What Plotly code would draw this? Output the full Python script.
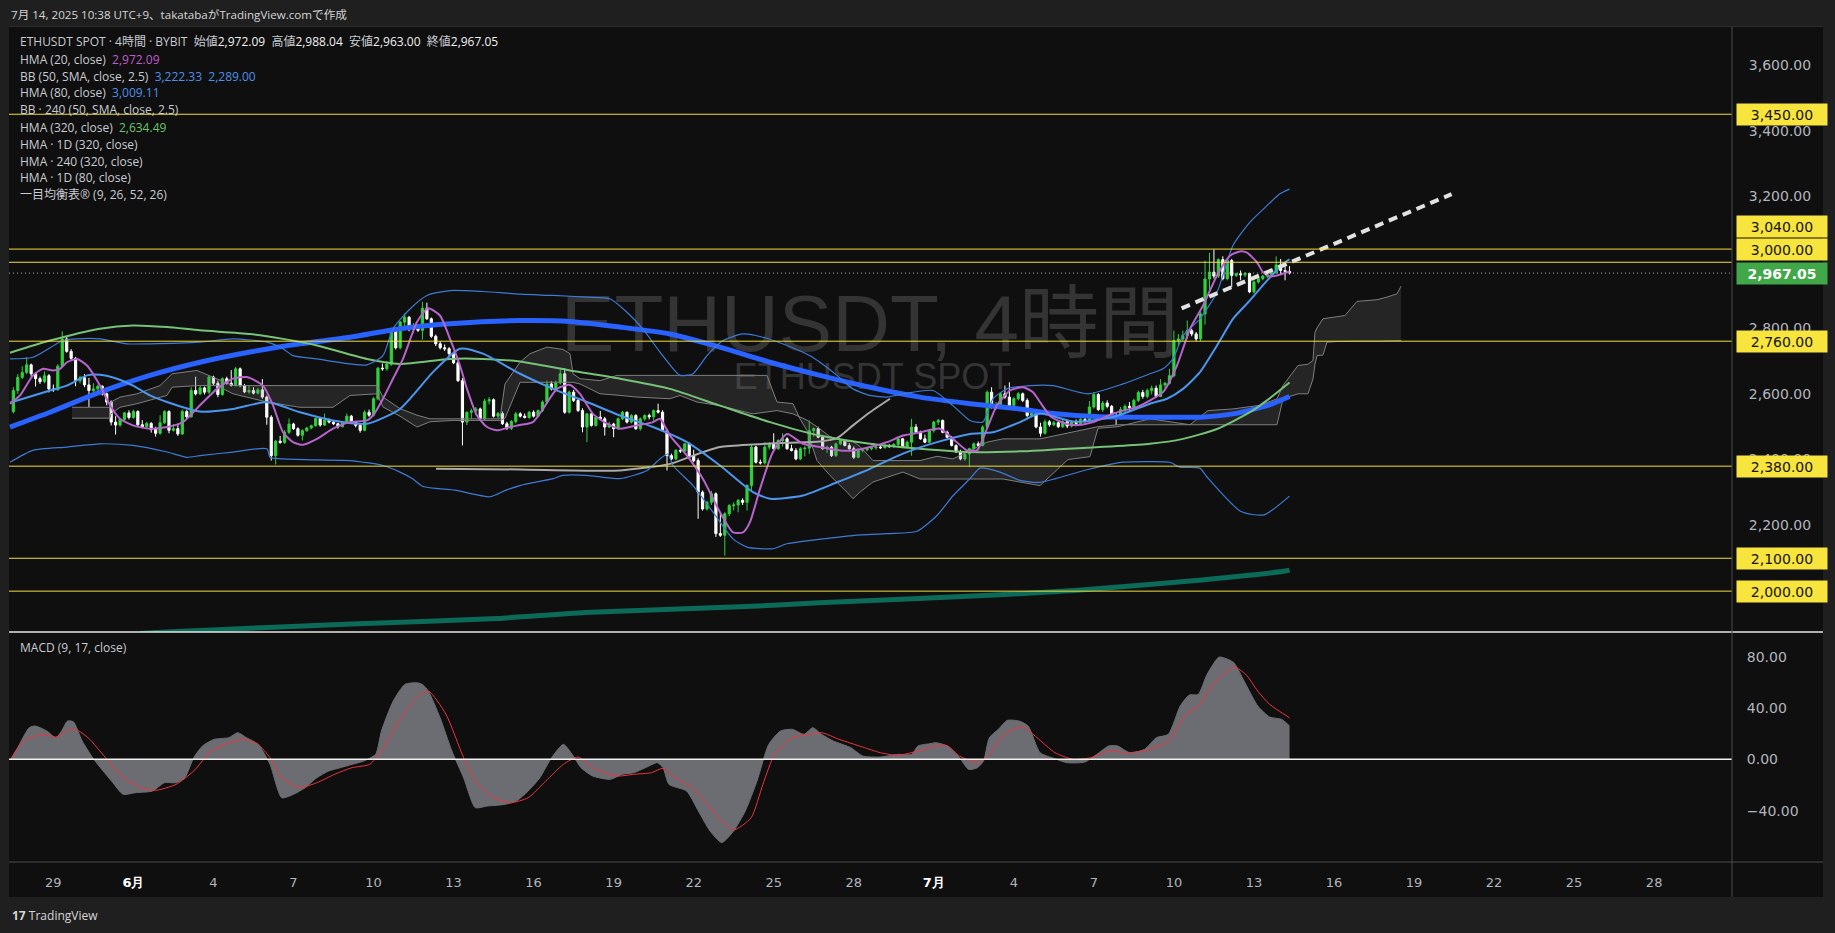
import pandas as pd
import plotly.graph_objects as go

# ------------------------------------------------------------------ data
# times are JST (UTC+9); line samples are given as day offsets from BASE
BASE = pd.Timestamp("2025-06-01 00:00")
FIRST_BAR = "2025-05-27 13:00"

opens = [
    2546, 2610, 2650,
    2665, 2688, 2661, 2646, 2637, 2655,
    2615, 2612, 2684, 2767, 2729, 2708,
    2640, 2649, 2627, 2610, 2615, 2623,
    2600, 2575, 2514, 2505, 2522, 2542,
    2528, 2546, 2506, 2500, 2510, 2492,
    2480, 2512, 2546, 2489, 2494, 2478,
    2546, 2530, 2610, 2600, 2618, 2605,
    2651, 2632, 2598, 2646, 2632, 2626,
    2676, 2625, 2606, 2610, 2602, 2612,
    2590, 2529, 2412, 2456, 2452, 2483,
    2508, 2494, 2474, 2488, 2496, 2503,
    2525, 2505, 2520, 2514, 2509, 2500,
    2514, 2532, 2514, 2504, 2489, 2544,
    2535, 2585, 2678, 2676, 2690, 2797,
    2740, 2818, 2833, 2795, 2808, 2793,
    2860, 2828, 2775, 2752, 2740, 2737,
    2722, 2694, 2640, 2514, 2544, 2548,
    2554, 2524, 2578, 2582, 2532, 2540,
    2509, 2495, 2516, 2539, 2532, 2528,
    2544, 2532, 2549, 2575, 2630, 2615,
    2633, 2661, 2544, 2605, 2580, 2549,
    2499, 2539, 2504, 2529, 2524, 2499,
    2508, 2494, 2524, 2544, 2514, 2534,
    2494, 2524, 2534, 2530, 2549, 2544,
    2488, 2412, 2402, 2428, 2426, 2448,
    2412, 2397, 2301, 2250, 2270, 2296,
    2175, 2170, 2235, 2260, 2262, 2276,
    2270, 2321, 2438, 2392, 2390, 2438,
    2448, 2433, 2458, 2463, 2433, 2428,
    2402, 2433, 2435, 2488, 2494, 2468,
    2433, 2438, 2412, 2448, 2458, 2443,
    2433, 2407, 2428, 2430, 2433, 2436,
    2438, 2436, 2443, 2439, 2446, 2463,
    2438, 2453, 2499, 2483, 2463, 2453,
    2488, 2514, 2519, 2483, 2468, 2443,
    2423, 2402, 2417, 2433, 2448, 2443,
    2499, 2605, 2560, 2562, 2600, 2590,
    2565, 2585, 2600, 2580, 2534, 2549,
    2499, 2480, 2515, 2506, 2512, 2500,
    2515, 2502, 2514, 2510, 2522, 2518,
    2560, 2598, 2552, 2572, 2562, 2532,
    2528, 2552, 2562, 2558, 2580, 2604,
    2592, 2610, 2617, 2592, 2627, 2632,
    2655, 2762, 2767, 2777, 2792, 2782,
    2767, 2843, 2949, 2970, 2958, 3008,
    2950, 3005, 2960, 2965, 2962, 2966,
    2910, 2940, 2950, 2958, 2962, 2968,
    2992, 2975, 2972.09,
]
highs = [
    2620, 2660, 2684,
    2711, 2692, 2666, 2652, 2668, 2660,
    2628, 2690, 2790, 2772, 2736, 2712,
    2655, 2660, 2648, 2632, 2628, 2626,
    2604, 2580, 2532, 2525, 2545, 2550,
    2552, 2550, 2520, 2515, 2514, 2500,
    2535, 2550, 2550, 2508, 2505, 2552,
    2552, 2620, 2652, 2625, 2622, 2656,
    2655, 2640, 2650, 2652, 2672, 2682,
    2680, 2630, 2626, 2620, 2618, 2645,
    2595, 2535, 2460, 2472, 2490, 2525,
    2512, 2498, 2492, 2500, 2506, 2528,
    2530, 2540, 2525, 2518, 2512, 2516,
    2540, 2536, 2518, 2508, 2550, 2552,
    2590, 2682, 2692, 2700, 2800, 2802,
    2822, 2845, 2836, 2815, 2812, 2880,
    2877, 2832, 2780, 2760, 2750, 2742,
    2728, 2700, 2648, 2546, 2555, 2560,
    2558, 2585, 2590, 2586, 2545, 2546,
    2515, 2520, 2545, 2544, 2540, 2548,
    2550, 2552, 2580, 2640, 2638, 2640,
    2676, 2678, 2610, 2612, 2585, 2556,
    2542, 2545, 2532, 2548, 2530, 2515,
    2512, 2528, 2548, 2546, 2538, 2538,
    2528, 2538, 2540, 2552, 2570, 2550,
    2494, 2418, 2432, 2434, 2450, 2452,
    2430, 2404, 2306, 2275, 2305, 2300,
    2240, 2240, 2265, 2270, 2280, 2282,
    2325, 2445, 2442, 2400, 2453, 2452,
    2480, 2462, 2480, 2468, 2445, 2435,
    2438, 2440, 2519, 2498, 2500, 2472,
    2442, 2442, 2452, 2462, 2460, 2450,
    2440, 2432, 2434, 2438, 2438, 2442,
    2446, 2448, 2447, 2450, 2468, 2466,
    2458, 2524, 2508, 2488, 2476, 2492,
    2518, 2524, 2522, 2488, 2472, 2446,
    2430, 2420, 2436, 2452, 2455, 2504,
    2610, 2620, 2575, 2605, 2625, 2635,
    2590, 2605, 2604, 2586, 2552, 2552,
    2512, 2522, 2520, 2518, 2516, 2520,
    2520, 2518, 2522, 2526, 2530, 2578,
    2605, 2602, 2578, 2580, 2566, 2542,
    2560, 2568, 2575, 2585, 2610, 2612,
    2616, 2625, 2625, 2645, 2636, 2676,
    2792, 2782, 2792, 2823, 2798, 2788,
    2850, 3005, 3029, 3039, 3012, 3018,
    3010, 3010, 2968, 2975, 2970, 2968,
    2945, 2955, 2962, 2966, 2972, 3018,
    3010, 2995, 2988.04,
]
lows = [
    2540, 2600, 2645,
    2660, 2652, 2622, 2630, 2632, 2604,
    2606, 2610, 2680, 2725, 2700, 2623,
    2632, 2620, 2560, 2598, 2608, 2595,
    2565, 2504, 2476, 2500, 2518, 2522,
    2524, 2500, 2495, 2495, 2482, 2470,
    2476, 2508, 2480, 2485, 2472, 2475,
    2525, 2528, 2595, 2596, 2598, 2600,
    2625, 2590, 2594, 2628, 2622, 2622,
    2620, 2602, 2600, 2598, 2598, 2585,
    2506, 2397, 2385, 2448, 2448, 2478,
    2490, 2470, 2458, 2484, 2492, 2500,
    2500, 2502, 2510, 2505, 2494, 2498,
    2510, 2512, 2498, 2482, 2486, 2530,
    2532, 2580, 2670, 2670, 2685, 2735,
    2735, 2800, 2790, 2785, 2788, 2765,
    2825, 2770, 2745, 2735, 2730, 2715,
    2690, 2636, 2443, 2505, 2524, 2535,
    2520, 2520, 2568, 2528, 2525, 2505,
    2490, 2490, 2510, 2528, 2525, 2524,
    2528, 2528, 2544, 2570, 2610, 2610,
    2628, 2539, 2540, 2575, 2545, 2483,
    2453, 2500, 2500, 2520, 2473, 2496,
    2468, 2490, 2520, 2510, 2510, 2490,
    2488, 2518, 2522, 2518, 2540, 2486,
    2367, 2398, 2398, 2420, 2422, 2410,
    2392, 2220, 2245, 2245, 2262, 2165,
    2165, 2108, 2228, 2245, 2240, 2262,
    2245, 2306, 2388, 2385, 2385, 2430,
    2428, 2430, 2440, 2430, 2425, 2398,
    2398, 2410, 2418, 2470, 2465, 2430,
    2420, 2408, 2408, 2444, 2440, 2430,
    2402, 2404, 2422, 2425, 2428, 2430,
    2432, 2434, 2436, 2436, 2440, 2435,
    2434, 2412, 2480, 2460, 2450, 2450,
    2482, 2505, 2480, 2465, 2440, 2420,
    2398, 2396, 2377, 2428, 2438, 2440,
    2495, 2555, 2552, 2558, 2585, 2560,
    2560, 2580, 2575, 2528, 2530, 2495,
    2470, 2476, 2500, 2502, 2496, 2496,
    2496, 2498, 2505, 2506, 2512, 2512,
    2555, 2548, 2545, 2556, 2528, 2505,
    2522, 2540, 2548, 2555, 2575, 2585,
    2586, 2598, 2588, 2590, 2618, 2628,
    2650, 2745, 2760, 2768, 2775, 2760,
    2760, 2810, 2914, 2950, 2952, 2945,
    2945, 2924, 2955, 2945, 2955, 2906,
    2905, 2935, 2945, 2952, 2955, 2965,
    2962, 2945, 2963.00,
]
closes = [
    2610, 2650, 2665,
    2688, 2661, 2646, 2637, 2655, 2615,
    2612, 2684, 2767, 2729, 2708, 2640,
    2649, 2627, 2610, 2615, 2623, 2600,
    2575, 2514, 2505, 2522, 2542, 2528,
    2546, 2506, 2500, 2510, 2492, 2480,
    2512, 2546, 2489, 2494, 2478, 2546,
    2530, 2610, 2600, 2618, 2605, 2651,
    2632, 2598, 2646, 2632, 2626, 2676,
    2625, 2606, 2610, 2602, 2612, 2590,
    2529, 2412, 2456, 2452, 2483, 2508,
    2494, 2474, 2488, 2496, 2503, 2525,
    2505, 2520, 2514, 2509, 2500, 2514,
    2532, 2514, 2504, 2489, 2544, 2535,
    2585, 2678, 2676, 2690, 2797, 2740,
    2818, 2833, 2795, 2808, 2793, 2860,
    2828, 2775, 2752, 2740, 2737, 2722,
    2694, 2640, 2514, 2544, 2548, 2554,
    2524, 2578, 2582, 2532, 2540, 2509,
    2495, 2516, 2539, 2532, 2528, 2544,
    2532, 2549, 2575, 2630, 2615, 2633,
    2661, 2544, 2605, 2580, 2549, 2499,
    2539, 2504, 2529, 2524, 2499, 2508,
    2494, 2524, 2544, 2514, 2534, 2494,
    2524, 2534, 2530, 2549, 2544, 2488,
    2412, 2402, 2428, 2426, 2448, 2412,
    2397, 2301, 2250, 2270, 2296, 2175,
    2170, 2235, 2260, 2262, 2276, 2270,
    2321, 2438, 2392, 2390, 2438, 2448,
    2433, 2458, 2463, 2433, 2428, 2402,
    2433, 2435, 2488, 2494, 2468, 2433,
    2438, 2412, 2448, 2458, 2443, 2433,
    2407, 2428, 2430, 2433, 2436, 2438,
    2436, 2443, 2439, 2446, 2463, 2438,
    2453, 2499, 2483, 2463, 2453, 2488,
    2514, 2519, 2483, 2468, 2443, 2423,
    2402, 2417, 2433, 2448, 2443, 2499,
    2605, 2560, 2562, 2600, 2590, 2565,
    2585, 2600, 2580, 2534, 2549, 2499,
    2480, 2515, 2506, 2512, 2500, 2515,
    2502, 2514, 2510, 2522, 2518, 2560,
    2598, 2552, 2572, 2562, 2532, 2528,
    2552, 2562, 2558, 2580, 2604, 2592,
    2610, 2617, 2592, 2627, 2632, 2655,
    2762, 2767, 2777, 2792, 2782, 2767,
    2843, 2949, 2970, 2958, 3008, 2950,
    3005, 2960, 2965, 2962, 2966, 2910,
    2940, 2950, 2958, 2962, 2968, 2992,
    2975, 2972.09, 2967.05,
]

# HMA (20) - purple
hma20_t = [-4.584, -4.209, -3.722, -3.347, -2.972, -2.710, -2.447, -2.073, -1.698, -1.211,
           -0.836, -0.461, 0.026, 0.663, 1.301, 1.900, 2.537, 3.175, 3.774, 4.299,
           4.899, 5.274, 5.649, 6.023, 6.398, 6.923, 7.523, 8.160, 8.797, 9.022,
           9.396, 9.771, 10.146, 10.671, 11.083, 11.533, 11.908, 12.282, 12.545, 12.920,
           13.295, 13.670, 14.157, 14.532, 15.019, 15.394, 15.919, 16.406, 16.781, 17.268,
           17.793, 18.280, 18.917, 19.517, 19.779, 20.154, 20.791, 21.391, 22.028, 22.515,
           22.890, 23.152, 23.527, 24.014, 24.539, 25.139, 25.776, 26.526, 27.013, 27.650,
           28.287, 28.887, 29.524, 30.274, 30.761, 31.286, 31.661, 32.036, 32.410, 32.898,
           33.385, 33.760, 34.022, 34.434, 35.034, 35.446, 36.046, 36.796, 37.695, 38.145,
           38.633, 39.157, 39.644, 40.132, 40.657, 41.144, 41.518, 41.781, 42.155, 42.380,
           42.643, 42.905, 43.375]
hma20_v = [2570, 2595, 2656, 2676, 2671, 2676, 2696, 2706, 2686, 2625,
           2565, 2524, 2504, 2494, 2499, 2514, 2565, 2615, 2646, 2651,
           2625, 2565, 2483, 2453, 2445, 2463, 2494, 2514, 2519, 2534,
           2585, 2646, 2706, 2818, 2860, 2838, 2767, 2686, 2615, 2534,
           2499, 2489, 2499, 2505, 2514, 2554, 2615, 2627, 2600, 2539,
           2509, 2494, 2504, 2514, 2524, 2473, 2412, 2341, 2240, 2179,
           2179, 2210, 2311, 2423, 2478, 2448, 2438, 2428, 2428, 2438,
           2453, 2473, 2483, 2494, 2463, 2428, 2428, 2494, 2565, 2610,
           2620, 2605, 2575, 2530, 2508, 2505, 2515, 2541, 2561, 2580,
           2605, 2686, 2797, 2868, 2960, 3020, 3033, 3029, 3000, 2970,
           2957, 2960, 2972.09]

# HMA (80) - light blue
hma80_t = [-4.584, -3.085, -2.447, -1.698, -1.211, -0.573, 0.026, 0.663, 1.301, 2.537,
           3.774, 5.049, 6.286, 7.523, 8.797, 10.034, 11.270, 12.282, 13.145, 14.532,
           15.769, 17.043, 18.280, 19.517, 20.791, 22.028, 23.265, 23.902, 25.139, 26.413,
           27.650, 28.887, 30.161, 31.399, 32.261, 33.272, 34.022, 35.334, 36.796, 38.145,
           38.783, 39.382, 40.019, 40.657, 41.256, 41.893, 42.530, 43.130, 43.375]
hma80_v = [2573, 2610, 2625, 2656, 2658, 2646, 2625, 2595, 2575, 2546,
           2554, 2575, 2544, 2519, 2509, 2554, 2666, 2737, 2722, 2661,
           2615, 2575, 2534, 2499, 2453, 2382, 2301, 2281, 2291, 2331,
           2372, 2418, 2453, 2478, 2483, 2514, 2540, 2515, 2530, 2570,
           2585, 2615, 2666, 2747, 2828, 2884, 2944, 2995, 3009.11]

# BB (50, SMA, close, 2.5) upper / lower
bbu_t = [-4.584, -3.722, -2.597, -2.073, -1.211, -0.199, 0.663, 2.537, 3.774, 5.049,
         5.649, 6.023, 6.923, 8.160, 8.797, 9.396, 9.771, 10.409, 11.046, 11.908,
         13.145, 14.532, 15.769, 17.043, 17.905, 18.542, 19.142, 19.779, 20.529, 21.016,
         21.541, 22.140, 22.890, 23.639, 24.539, 25.401, 25.776, 26.413, 27.013, 27.650,
         28.287, 28.887, 30.012, 30.761, 31.399, 31.886, 32.261, 32.785, 33.647, 34.509,
         35.821, 37.133, 38.145, 38.633, 39.007, 39.382, 40.019, 40.657, 41.256, 41.893,
         42.530, 43.017, 43.375]
bbu_v = [2706, 2711, 2762, 2767, 2767, 2752, 2752, 2757, 2767, 2757,
         2737, 2716, 2706, 2691, 2688, 2716, 2798, 2858, 2899, 2914,
         2911, 2903, 2899, 2894, 2889, 2848, 2797, 2727, 2656, 2661,
         2716, 2762, 2782, 2772, 2747, 2716, 2696, 2656, 2615, 2595,
         2590, 2600, 2610, 2564, 2519, 2514, 2585, 2615, 2625, 2625,
         2600, 2630, 2661, 2676, 2706, 2777, 2828, 2909, 3051, 3122,
         3172, 3208, 3222.33]
bbl_t = [-4.584, -3.722, -2.447, -1.211, 0.026, 1.301, 2.050, 2.537, 3.774, 5.049,
         5.161, 5.649, 6.923, 8.160, 9.396, 10.034, 10.521, 10.896, 12.095, 13.407,
         14.007, 14.532, 15.769, 16.143, 17.043, 18.280, 19.292, 19.779, 20.079, 20.267,
         21.016, 21.766, 22.515, 23.040, 24.014, 24.539, 27.013, 28.287, 29.412, 30.161,
         30.761, 31.399, 31.773, 32.522, 33.272, 34.022, 35.821, 37.133, 38.145, 38.895,
         39.269, 40.019, 40.282, 41.556, 42.418, 43.375]
bbl_v = [2392, 2428, 2438, 2448, 2443, 2423, 2407, 2412, 2423, 2433,
         2407, 2402, 2399, 2397, 2382, 2362, 2341, 2318, 2307, 2287,
         2307, 2321, 2342, 2352, 2352, 2342, 2367, 2402, 2417, 2382,
         2321, 2240, 2159, 2134, 2129, 2144, 2169, 2175, 2182, 2230,
         2290, 2342, 2374, 2362, 2337, 2331, 2370, 2392, 2394, 2392,
         2377, 2374, 2347, 2242, 2232, 2289.00]

# HMA (320) - green
hma320_t = [-4.584, -3.085, -1.211, 0.026, 1.301, 2.537, 4.411, 5.649, 6.923, 8.797,
            10.034, 11.908, 13.145, 14.532, 16.406, 18.280, 20.154, 22.028, 23.902, 25.776,
            27.650, 29.524, 31.399, 33.272, 34.022, 38.145, 39.382, 40.657, 41.893, 42.530,
            43.375]
hma320_v = [2725, 2762, 2798, 2808, 2803, 2793, 2782, 2767, 2747, 2706,
            2691, 2706, 2706, 2698, 2671, 2646, 2615, 2564, 2514, 2473,
            2448, 2433, 2423, 2425, 2428, 2448, 2463, 2493, 2544, 2580,
            2634.49]

# HMA · 240 (320) - thick blue
hma240_t = [-4.584, -3.085, -1.211, 0.663, 2.537, 4.411, 6.286, 8.160, 10.034, 11.908,
            14.532, 16.406, 18.280, 20.154, 22.028, 23.902, 25.776, 27.650, 29.524, 31.399,
            33.272, 34.509, 36.271, 38.145, 40.019, 41.256, 42.530, 43.375]
hma240_v = [2499, 2544, 2605, 2656, 2696, 2727, 2752, 2772, 2798, 2813,
            2823, 2820, 2803, 2782, 2742, 2696, 2656, 2620, 2590, 2570,
            2554, 2540, 2530, 2529, 2529, 2539, 2564, 2592]

# HMA · 1D (320) - dark teal
hma1d_t = [0.29, 1.274, 8.198, 13.689, 16.968, 23.002, 25.739, 32.335, 35.446, 40.094, 43.205, 43.375]
hma1d_v = [1871, 1876, 1900, 1917, 1935, 1953, 1965, 1988, 2003, 2034, 2061, 2064]

# light grey line
grey_t = [11.383, 14.532, 18.280, 20.154, 21.016, 22.028, 23.265, 24.539, 25.776, 26.413, 27.013, 27.650, 28.400]
grey_v = [2372, 2370, 2367, 2387, 2412, 2438, 2446, 2451, 2455, 2465, 2504, 2544, 2585]

# Ichimoku cloud (leading spans)
cloud_t = [-2.260, -0.836, -0.798, -0.461, 0.176, 1.038, 1.301, 1.488, 2.425, 3.175,
           3.774, 5.049, 6.286, 7.523, 8.160, 9.172, 9.396, 10.034, 10.671, 11.158,
           12.020, 13.782, 13.969, 14.532, 14.907, 15.544, 16.143, 16.406, 16.518, 16.781,
           17.530, 18.168, 18.917, 20.154, 20.529, 21.166, 22.028, 23.265, 23.789, 24.164,
           24.764, 25.026, 25.289, 25.664, 26.151, 26.788, 27.013, 27.275, 27.763, 28.887,
           29.524, 30.161, 30.761, 32.036, 32.635, 34.022, 35.071, 35.896, 36.196, 36.946,
           38.145, 39.644, 40.319, 41.256, 42.268, 42.905, 43.130, 43.692, 44.067, 44.254,
           44.329, 44.404, 44.629, 44.779, 45.154, 45.454, 45.904, 46.653, 47.028, 47.403,
           47.553]
span_a = [2559, 2559, 2575, 2590, 2600, 2625, 2646, 2661, 2671, 2646,
          2625, 2625, 2625, 2625, 2625, 2625, 2590, 2555, 2535, 2524,
          2524, 2524, 2630, 2696, 2722, 2742, 2735, 2722, 2661, 2646,
          2640, 2656, 2656, 2656, 2656, 2656, 2656, 2656, 2656, 2575,
          2570, 2524, 2488, 2397, 2352, 2301, 2281, 2301, 2332, 2362,
          2341, 2341, 2341, 2341, 2341, 2321, 2400, 2409, 2495, 2500,
          2524, 2506, 2549, 2554, 2565, 2585, 2625, 2686, 2690, 2701,
          2787, 2800, 2828, 2830, 2835, 2838, 2881, 2886, 2894, 2904,
          2927]
span_b = [2526, 2526, 2539, 2559, 2570, 2590, 2595, 2620, 2625, 2625,
          2600, 2575, 2559, 2559, 2595, 2600, 2560, 2532, 2499, 2515,
          2519, 2519, 2525, 2635, 2635, 2635, 2635, 2635, 2635, 2630,
          2600, 2596, 2590, 2585, 2595, 2575, 2564, 2539, 2545, 2549,
          2539, 2530, 2520, 2500, 2470, 2455, 2455, 2440, 2397, 2397,
          2397, 2410, 2402, 2453, 2463, 2463, 2480, 2495, 2500, 2506,
          2506, 2506, 2506, 2506, 2506, 2506, 2585, 2600, 2600, 2645,
          2690, 2716, 2718, 2757, 2759, 2760, 2760, 2760, 2760, 2762,
          2762]

# drawn trend line
trend_t = [39.33, 49.45]
trend_v = [2860, 3207]

# horizontal levels
levels = [3450, 3040, 3000, 2760, 2380, 2100, 2000]
last_price = 2967.05

# MACD (9, 17, close)
macd_t = [-4.561, -4.299, -3.861, -3.639, -3.201, -2.867, -2.650, -2.429, -2.208, -1.878,
          -1.439, -0.780, -0.341, 0.101, 0.761, 1.199, 1.642, 1.971, 2.301, 2.631,
          3.070, 3.621, 3.951, 4.280, 4.719, 5.161, 5.600, 6.038, 6.480, 6.919,
          7.358, 7.800, 8.238, 8.677, 9.119, 9.340, 9.779, 10.217, 10.660, 10.877,
          11.098, 11.537, 11.979, 12.418, 12.860, 13.298, 13.958, 14.397, 14.839, 15.277,
          15.716, 16.158, 16.488, 16.818, 17.256, 17.916, 18.358, 18.797, 19.235, 19.678,
          19.895, 20.116, 20.776, 21.218, 21.657, 22.095, 22.537, 22.976, 23.415, 23.857,
          24.295, 24.738, 25.176, 25.506, 25.836, 26.274, 26.934, 27.376, 28.036, 28.696,
          29.220, 29.445, 29.891, 30.116, 30.562, 31.008, 31.346, 31.679, 31.904, 32.125,
          32.463, 32.796, 33.246, 33.579, 34.025, 34.584, 35.034, 35.705, 36.151, 36.597,
          36.934, 37.380, 37.939, 38.385, 38.831, 39.280, 39.614, 39.952, 40.285, 40.731,
          41.068, 41.293, 41.739, 42.185, 42.631, 43.077, 43.375]
macd_v = [0, 9.1, 24.7, 26.0, 22.1, 16.9, 22.1, 29.8, 29.3, 14.3,
          0, -16.9, -27.3, -26.0, -24.7, -18.2, -18.2, -14.3, 1.3, 10.4,
          15.6, 16.9, 20.8, 16.9, 11.7, -3.9, -29.9, -27.3, -22.1, -14.3,
          -9.1, -6.5, -3.9, -1.3, 3.9, 22.1, 45.4, 58.4, 59.7, 58.4,
          53.2, 32.4, 6.5, -14.3, -37.7, -36.4, -35.1, -32.5, -24.7, -14.3,
          1.3, 11.7, 3.9, -6.5, -13.0, -15.6, -11.7, -10.4, -6.5, -2.6,
          -6.5, -19.5, -24.7, -40.3, -55.9, -64.9, -55.9, -40.3, -16.9, 11.7,
          22.1, 23.4, 19.5, 24.7, 19.5, 14.3, 9.1, 2.6, 1.8, 3.9,
          3.9, 10.4, 12.2, 13.0, 10.4, 1.3, -7.8, -6.5, -1.3, 16.9,
          23.4, 30.4, 29.8, 26.0, 5.2, 0.5, -2.6, -2.1, 3.9, 10.4,
          10.4, 5.2, 7.8, 16.9, 19.5, 41.6, 50.1, 50.6, 66.2, 79.7,
          77.9, 75.3, 58.4, 41.6, 33.0, 31.2, 26.0]
signal_t = [-4.561, -4.078, -3.639, -3.201, -2.867, -2.208, -1.660, -1.001, -0.341, 0.319,
            0.870, 1.642, 2.301, 2.961, 3.621, 4.168, 4.719, 5.161, 5.600, 6.259,
            6.919, 7.579, 8.238, 8.898, 9.340, 10.000, 10.660, 11.098, 11.758, 12.418,
            12.860, 13.519, 14.179, 14.839, 15.498, 16.158, 16.709, 17.256, 18.137, 18.797,
            19.456, 19.895, 20.337, 20.997, 21.436, 22.095, 22.537, 23.197, 23.636, 24.074,
            24.738, 25.397, 25.836, 26.496, 27.376, 28.036, 28.696, 29.445, 30.116, 30.562,
            31.008, 31.679, 32.125, 32.687, 33.355, 33.913, 34.584, 35.255, 35.926, 36.597,
            37.268, 37.939, 38.831, 39.502, 39.952, 40.619, 41.290, 41.739, 42.185, 42.631,
            43.375]
signal_v = [0, 14.3, 18.2, 19.0, 17.4, 24.1, 16.9, 1.3, -14.3, -22.1,
            -24.2, -19.5, -9.1, 6.5, 13.0, 15.6, 11.7, 1.3, -14.3, -22.1,
            -18.2, -11.7, -6.5, -3.9, 6.5, 29.8, 48.0, 53.2, 35.1, 1.3,
            -16.9, -29.9, -33.8, -29.9, -16.9, -3.9, 1.8, -6.5, -13.0, -11.7,
            -10.4, -7.0, -14.3, -22.1, -32.5, -48.1, -55.1, -45.5, -19.5, 3.9,
            16.9, 19.5, 20.8, 15.6, 9.6, 5.2, 3.1, 6.5, 10.4, 10.4,
            2.6, -2.6, 3.9, 19.5, 25.4, 16.9, 5.2, 0, 1.3, 6.5,
            5.2, 6.5, 14.3, 35.1, 41.6, 61.0, 71.9, 66.2, 53.2, 42.9,
            32.4]

# axis ticks
date_ticks = ["2025-05-29", "2025-06-01", "2025-06-04", "2025-06-07", "2025-06-10", "2025-06-13",
              "2025-06-16", "2025-06-19", "2025-06-22", "2025-06-25", "2025-06-28", "2025-07-01",
              "2025-07-04", "2025-07-07", "2025-07-10", "2025-07-13", "2025-07-16", "2025-07-19",
              "2025-07-22", "2025-07-25", "2025-07-28"]
date_labels = ["29", "6月", "4", "7", "10", "13", "16", "19", "22", "25", "28", "7月",
               "4", "7", "10", "13", "16", "19", "22", "25", "28"]
price_ticks = [2200, 2400, 2600, 2800, 3200, 3400, 3600]
macd_ticks = [-40, 0, 40, 80]
macd_labels = ["\u221240.00", "0.00", "40.00", "80.00"]
x_view = [-4.621, 59.96]          # visible range, days from BASE
price_view = [1875.8, 3718.3]
macd_view = [-80.0, 99.25]

# ------------------------------------------------------------------ helpers
def T(days):
    return [BASE + pd.Timedelta(days=float(d)) for d in days]

def pair(t, v):
    n = min(len(t), len(v))
    return T(t[:n]), v[:n]

bar_time = pd.date_range(FIRST_BAR, periods=len(closes), freq="4h")

W, H = 1835, 933
ML, MR, MT, MB = 9, 103, 26, 71
PW, PH = W - ML - MR, H - MT - MB

def px(x):
    return (x - ML) / PW

def py(y):
    return (H - MB - y) / PH

SPLIT = py(632)
UI_FONT = "Open Sans, Noto Sans CJK JP, sans-serif"
AX_FONT = "DejaVu Sans, sans-serif"

fig = go.Figure()

fig.add_trace(go.Candlestick(
    x=bar_time, open=opens, high=highs, low=lows, close=closes,
    increasing=dict(line=dict(color="#2fd23c", width=1), fillcolor="#2fd23c"),
    decreasing=dict(line=dict(color="#ffffff", width=1), fillcolor="#ffffff"),
    whiskerwidth=0, xaxis="x", yaxis="y", showlegend=False, hoverinfo="skip"))

def line(t, v, color, width, yaxis="y", shape="spline", dash=None, fill=None, fillcolor=None):
    xs, ys = pair(t, v)
    fig.add_trace(go.Scatter(
        x=xs, y=ys, mode="lines", xaxis="x", yaxis=yaxis,
        line=dict(color=color, width=width, shape=shape, dash=dash,
                  smoothing=0.6 if shape == "spline" else None),
        fill=fill, fillcolor=fillcolor, showlegend=False, hoverinfo="skip"))

# Ichimoku cloud
line(cloud_t, span_b, "#7e7e7e", 1, shape="linear")
line(cloud_t, span_a, "#7e7e7e", 1, shape="linear", fill="tonexty",
     fillcolor="rgba(120,120,120,0.22)")
line(grey_t, grey_v, "#a9a9a9", 2)
line(hma1d_t, hma1d_v, "#0b6b58", 5)
line(hma240_t, hma240_v, "#2962ff", 5)
line(hma320_t, hma320_v, "#78c278", 2)
line(bbu_t, bbu_v, "#3d7bd6", 1.2)
line(bbl_t, bbl_v, "#3d7bd6", 1.2)
line(hma80_t, hma80_v, "#4b96ee", 2)
line(hma20_t, hma20_v, "#b764cc", 2)
line(trend_t, trend_v, "#e2e2e2", 4, shape="linear", dash="9px,6px")

# MACD pane
line(macd_t, macd_v, "#6c6d72", 1, yaxis="y2", fill="tozeroy", fillcolor="#6c6d72")
line(signal_t, signal_v, "#f0333f", 1, yaxis="y2")

# ------------------------------------------------------------------ shapes
shapes = []
shapes.append(dict(type="rect", xref="paper", yref="paper", x0=px(9), x1=px(1823),
                   y0=py(897), y1=py(26), fillcolor="#0f0f0f", line=dict(width=0), layer="below"))
shapes.append(dict(type="rect", xref="paper", yref="paper", x0=px(470), x1=px(1270),
                   y0=py(350), y1=py(280), line=dict(width=0), fillcolor="rgba(0,0,0,0)",
                   layer="below",
                   label=dict(text="ETHUSDT, 4時間", textposition="middle center",
                              font=dict(family="Liberation Sans, Noto Sans CJK JP", size=80,
                                        color="#343434"))))
shapes.append(dict(type="rect", xref="paper", yref="paper", x0=px(700), x1=px(1045),
                   y0=py(392), y1=py(354), line=dict(width=0), fillcolor="rgba(0,0,0,0)",
                   layer="below",
                   label=dict(text="ETHUSDT SPOT", textposition="middle center",
                              font=dict(family="Liberation Sans", size=36, color="#343434"))))
for lv in levels:
    shapes.append(dict(type="line", xref="paper", yref="y", x0=0, x1=1, y0=lv, y1=lv,
                       line=dict(color="#f3df3a", width=1)))
shapes.append(dict(type="line", xref="paper", yref="y", x0=0, x1=1, y0=last_price, y1=last_price,
                   line=dict(color="#a8a8a8", width=1, dash="1px,3px")))
shapes.append(dict(type="line", xref="paper", yref="y2", x0=0, x1=1, y0=0, y1=0,
                   line=dict(color="#f2f2f2", width=1.5)))
shapes.append(dict(type="line", xref="paper", yref="paper", x0=px(9), x1=px(1823),
                   y0=SPLIT, y1=SPLIT, line=dict(color="#e6e6e6", width=1.5)))
shapes.append(dict(type="line", xref="paper", yref="paper", x0=px(9), x1=px(1823),
                   y0=0, y1=0, line=dict(color="#4a4a4a", width=1)))
shapes.append(dict(type="line", xref="paper", yref="paper", x0=1, x1=1,
                   y0=py(897), y1=py(26), line=dict(color="#4a4a4a", width=1)))
shapes.append(dict(type="line", xref="paper", yref="paper", x0=px(9), x1=px(1823),
                   y0=py(26.5), y1=py(26.5), line=dict(color="#2c2c2c", width=1)))

# ------------------------------------------------------------------ annotations
ann = []
label_shift = {3040: 22.5, 3000: 12.5}
for lv in levels:
    ann.append(dict(xref="paper", yref="y", x=px(1736), y=lv, xanchor="left", yanchor="middle",
                    text=f"{lv:,.2f}", showarrow=False, yshift=label_shift.get(lv, 0),
                    bgcolor="#f7e43c", borderpad=3, width=84, height=15, align="center",
                    font=dict(family=AX_FONT, size=14, color="#131313")))
ann.append(dict(xref="paper", yref="y", x=px(1736), y=last_price, xanchor="left", yanchor="middle",
                text=f"<b>{last_price:,.2f}</b>", showarrow=False, yshift=-0.5,
                bgcolor="#41a84a", borderpad=3, width=84, height=15, align="center",
                font=dict(family=AX_FONT, size=14, color="#ffffff")))

G = "#c9cbd1"
legend_lines = [
    f"<span style='color:{G}'>ETHUSDT SPOT · 4時間 · BYBIT</span>\u00a0\u00a0"
    f"<span style='color:{G}'>始値</span><span style='color:#f0f0f0'>2,972.09</span>\u00a0\u00a0"
    f"<span style='color:{G}'>高値</span><span style='color:#f0f0f0'>2,988.04</span>\u00a0\u00a0"
    f"<span style='color:{G}'>安値</span><span style='color:#f0f0f0'>2,963.00</span>\u00a0\u00a0"
    f"<span style='color:{G}'>終値</span><span style='color:#f0f0f0'>2,967.05</span>",
    f"<span style='color:{G}'>HMA (20, close)</span>\u00a0\u00a0<span style='color:#c05cc9'>2,972.09</span>",
    f"<span style='color:{G}'>BB (50, SMA, close, 2.5)</span>\u00a0\u00a0"
    f"<span style='color:#4f8fe8'>3,222.33</span>\u00a0\u00a0<span style='color:#4f8fe8'>2,289.00</span>",
    f"<span style='color:{G}'>HMA (80, close)</span>\u00a0\u00a0<span style='color:#4f8fe8'>3,009.11</span>",
    f"<span style='color:{G}'>BB · 240 (50, SMA, close, 2.5)</span>",
    f"<span style='color:{G}'>HMA (320, close)</span>\u00a0\u00a0<span style='color:#6cc46c'>2,634.49</span>",
    f"<span style='color:{G}'>HMA · 1D (320, close)</span>",
    f"<span style='color:{G}'>HMA · 240 (320, close)</span>",
    f"<span style='color:{G}'>HMA · 1D (80, close)</span>",
    f"<span style='color:{G}'>一目均衡表® (9, 26, 52, 26)</span>",
]
for i, txt in enumerate(legend_lines):
    ann.append(dict(xref="paper", yref="paper", x=px(18), y=py(42 + 17 * i), xanchor="left",
                    yanchor="middle", text=txt, showarrow=False,
                    font=dict(family=UI_FONT, size=12, color=G)))
ann.append(dict(xref="paper", yref="paper", x=px(18), y=py(647), xanchor="left", yanchor="middle",
                text="MACD (9, 17, close)", showarrow=False,
                font=dict(family=UI_FONT, size=12, color=G)))
ann.append(dict(xref="paper", yref="paper", x=px(9), y=py(14), xanchor="left", yanchor="middle",
                text="7月 14, 2025 10:38 UTC+9、takatabaがTradingView.comで作成", showarrow=False,
                font=dict(family=UI_FONT, size=11.6, color="#d6d6d6")))
ann.append(dict(xref="paper", yref="paper", x=px(10), y=py(915), xanchor="left", yanchor="middle",
                text="<b>17</b> TradingView", showarrow=False,
                font=dict(family=UI_FONT, size=12, color="#d6d6d6")))

tick_text = [f"<b><span style='color:#ffffff'>{s}</span></b>" if "月" in s else s for s in date_labels]
tick_vals = [pd.Timestamp(d) + pd.Timedelta(hours=1) for d in date_ticks]

fig.update_layout(
    width=W, height=H, margin=dict(l=ML, r=MR, t=MT, b=MB, pad=0),
    paper_bgcolor="#1f1f1f", plot_bgcolor="#0f0f0f",
    showlegend=False, shapes=shapes, annotations=ann,
    xaxis=dict(type="date", range=T(x_view), anchor="y2", domain=[0, 1],
               showgrid=False, zeroline=False, showline=False,
               tickvals=tick_vals, ticktext=tick_text, ticks="outside", ticklen=8,
               tickcolor="rgba(0,0,0,0)", tickfont=dict(family=AX_FONT, size=13, color="#b2b5be"),
               rangeslider=dict(visible=False), fixedrange=True),
    yaxis=dict(domain=[SPLIT, 1], range=price_view, side="right", anchor="x",
               showgrid=False, zeroline=False, showline=False,
               tickvals=price_ticks, tickformat=",.2f", ticks="outside", ticklen=13,
               tickcolor="rgba(0,0,0,0)", tickfont=dict(family=AX_FONT, size=14, color="#b2b5be")),
    yaxis2=dict(domain=[0, SPLIT], range=macd_view, side="right", anchor="x",
                showgrid=False, zeroline=False, showline=False,
                tickvals=macd_ticks, ticktext=macd_labels, ticks="outside", ticklen=11,
                tickcolor="rgba(0,0,0,0)", tickfont=dict(family=AX_FONT, size=14, color="#b2b5be")),
)

fig.write_html(
    "out.html",
    config={"displayModeBar": False},
    post_script="document.body.style.margin='0px';document.body.style.background='#1f1f1f';",
)
